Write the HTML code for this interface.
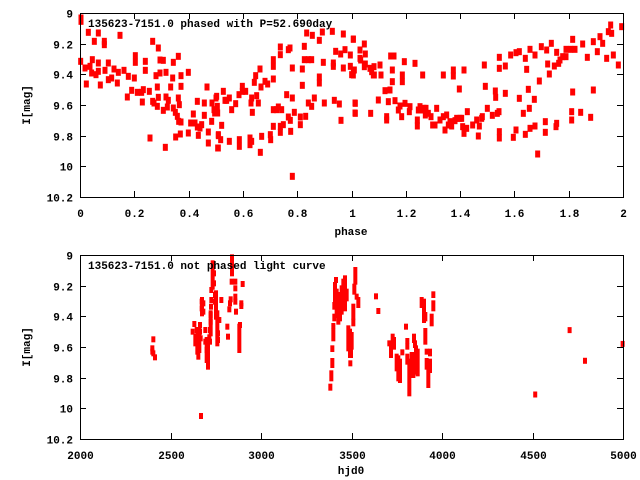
<!DOCTYPE html>
<html><head><meta charset="utf-8"><style>
html,body{margin:0;padding:0;background:#fff;}
svg{display:block;}
text{font-family:"Liberation Mono","DejaVu Sans Mono",monospace;font-weight:bold;font-size:11px;fill:#000;}
</style></head><body>
<svg id="s" width="640" height="480" xmlns="http://www.w3.org/2000/svg">
<rect x="0" y="0" width="640" height="480" fill="#fff"/>
<g id="pts1" fill="#f00"></g>
<g id="pts2" fill="#f00"></g>
<g id="ax" stroke="#000" stroke-width="1" fill="none"></g>
<g id="tx"></g>
<text x="88" y="27">135623-7151.0 phased with P=52.690day</text>
<text x="88" y="269">135623-7151.0 not phased light curve</text>
<text x="351" y="235" text-anchor="middle">phase</text>
<text x="351" y="474" text-anchor="middle">hjd0</text>
<text transform="translate(30,105) rotate(-90)" text-anchor="middle">I[mag]</text>
<text transform="translate(30,347) rotate(-90)" text-anchor="middle">I[mag]</text>
</svg>
<script>
var NS="http://www.w3.org/2000/svg";
function el(p,n,a){var e=document.createElementNS(NS,n);for(var k in a)e.setAttribute(k,a[k]);p.appendChild(e);return e;}
var ax=document.getElementById('ax'),tx=document.getElementById('tx');
function frame(x0,y0,x1,y1){el(ax,'rect',{x:x0+.5,y:y0+.5,width:x1-x0,height:y1-y0});}
frame(80,13,623,197);frame(80,255,623,439);
function t(x,y,s,a){var e=el(tx,'text',{x:x,y:y,'text-anchor':a||'end'});e.textContent=s;}
var ylab=['9','9.2','9.4','9.6','9.8','10','10.2'];
for(var i=0;i<7;i++){
 var y=Math.round(13+i*184/6)+.5;
 el(ax,'line',{x1:80,y1:y,x2:86,y2:y});el(ax,'line',{x1:623,y1:y,x2:617,y2:y});
 t(73,y+4,ylab[i]);
 var y2=Math.round(255+i*184/6)+.5;
 el(ax,'line',{x1:80,y1:y2,x2:86,y2:y2});el(ax,'line',{x1:623,y1:y2,x2:617,y2:y2});
 t(73,y2+4,ylab[i]);
}
var xl=['0','0.2','0.4','0.6','0.8','1','1.2','1.4','1.6','1.8','2'];
for(var i=0;i<11;i++){var x=Math.round(80+i*54.3)+.5;
 el(ax,'line',{x1:x,y1:197,x2:x,y2:191});el(ax,'line',{x1:x,y1:13,x2:x,y2:19});
 t(x,217,xl[i],'middle');}
var bl=['2000','2500','3000','3500','4000','4500','5000'];
for(var i=0;i<7;i++){var x=Math.round(80+i*543/6)+.5;
 el(ax,'line',{x1:x,y1:439,x2:x,y2:433});el(ax,'line',{x1:x,y1:255,x2:x,y2:261});
 t(x,459,bl[i],'middle');}
var CA=[[3,15],[3,25],[25,58],[55,60],[43,85],[73,85],[73,95],[120,67],[218,85],[235,105],[2,145],[15,165],[37,140],[30,160],[55,150],[85,150],[35,180],[48,185],[55,175],[75,172],[102,168],[115,178],[132,172],[19,213],[61,216],[85,200],[95,195],[112,210],[145,190],[163,195],[166,128],[166,148],[196,145],[196,172],[240,141],[250,142],[280,148],[295,130],[228,188],[240,180],[258,178],[278,195],[303,188],[325,178],[155,232],[142,252],[172,238],[185,238],[190,230],[208,235],[232,222],[272,222],[303,220],[187,267],[218,265],[222,270],[235,253],[232,280],[250,292],[258,252],[265,262],[262,282],[280,285],[286,298],[295,255],[298,275],[292,310],[296,325],[303,327],[340,303],[332,330],[345,330],[352,342],[360,345],[365,335],[352,265],[373,270],[373,307],[381,222],[395,325],[385,357],[396,270],[402,290],[410,250],[412,280],[404,300],[210,375],[256,403],[287,372],[301,363],[325,360],[355,367],[385,390],[413,405],[415,368]];
var CB=[[3,255],[8,300],[20,337],[10,365],[17,380],[10,405],[25,235],[35,262],[43,255],[30,262],[50,290],[62,272],[72,245],[82,220],[82,235],[92,235],[43,385],[73,380],[73,400],[105,375],[110,385],[105,395],[112,298],[108,270],[110,255],[125,248],[130,270],[118,208],[122,188],[135,168],[138,222],[150,205],[158,213],[140,370],[136,418],[166,365],[167,380],[175,340],[175,290],[185,290],[190,282],[200,290],[196,358],[196,340],[205,335],[215,245],[220,312],[226,322],[227,355],[232,255],[238,298],[175,198],[175,160],[175,140],[196,102],[196,125],[220,110],[225,105],[232,165],[262,168],[262,217],[268,100],[268,140],[280,140],[290,140],[275,60],[292,67],[313,82],[322,57],[352,55],[385,63],[415,78],[325,148],[355,150],[355,160],[362,115],[377,123],[390,110],[406,126],[385,165],[406,160],[415,172],[410,185],[313,192],[313,210],[298,255],[280,270],[290,280],[328,270],[358,262],[373,273],[420,270],[420,300],[378,322],[272,310],[256,312],[256,335],[232,490]];
var CC=[[100,118],[103,210],[100,225],[106,310],[106,340],[120,150],[120,175],[122,180],[133,132],[136,162],[133,200],[136,192],[150,205],[152,340],[155,215],[160,225],[162,200],[163,225],[175,300],[180,195],[183,225],[195,272],[200,350],[200,360],[205,305],[210,270],[212,168],[222,168],[217,210],[217,245],[225,302],[235,330],[240,318],[245,350],[247,225],[247,245],[253,185],[255,310],[268,335],[270,320],[285,190],[292,360],[292,378],[295,330],[300,320],[305,330],[308,225],[312,325],[318,325],[316,345],[325,340],[333,350],[338,375],[345,375],[350,325],[360,360],[370,225],[370,350],[375,390],[380,345],[385,375],[390,365],[395,378],[400,210],[400,228],[405,362],[410,355],[418,267],[420,355],[425,355],[428,380],[432,400],[432,210],[440,385],[442,335],[458,375],[470,360],[475,408],[478,378],[485,355],[487,350],[493,195],[496,259],[502,325],[517,346],[526,273],[527,292],[532,340],[537,335],[538,395],[538,414],[538,172],[538,205],[556,198],[556,280],[572,165],[588,158],[598,155],[598,295],[580,412],[588,390],[610,340],[616,403],[616,175],[620,208],[625,268],[628,325],[630,385],[630,148],[643,298],[645,378],[645,165],[653,462],[658,243],[664,140],[676,365],[676,397],[680,150],[683,192],[688,222],[694,130],[703,198],[708,380],[710,370],[710,157],[716,190],[720,180],[728,170],[738,148],[738,170],[752,148],[755,335],[755,360],[758,276],[758,118],[765,148],[782,337],[788,132],[802,172],[812,352],[820,270],[820,125],[832,155],[840,110],[848,130],[860,175],[865,95],[872,75],[875,100],[880,165],[895,195],[905,80]];
var g1=document.getElementById('pts1');
function dot(x,y){el(g1,'rect',{x:x-2.5,y:y-3.5,width:5,height:7});}
CA.forEach(function(p){dot(80+p[0]/3,13+p[1]/3);});
CB.forEach(function(p){dot(215+p[0]/3,13+p[1]/3);});
CC.forEach(function(p){dot(320+p[0]/3,p[1]/3);});
var g2=document.getElementById('pts2');
function st(x0,y0,x,a,b){if(b===undefined)b=a;var px=x0+x/3,p1=y0+a/3,p2=y0+b/3;el(g2,'rect',{x:px-2,y:p1-3,width:4,height:p2-p1+6});}
var D1=[[40,268],[37,295],[40,310],[45,322],[37,305],[158,245],[163,222],[170,240],[180,225],[180,245],[182,265],[185,155],[185,175],[190,160],[190,185],[196,240],[196,275],[208,262],[210,275],[210,240],[212,215],[212,195],[213,170],[214,150],[214,120],[222,100],[222,70],[225,135],[225,155],[238,210],[244,150],[262,230],[264,260],[268,178],[270,160],[272,148],[275,95],[286,95],[286,115],[286,140],[286,155],[288,185],[300,225],[304,160],[304,168],[308,102],[183,498],[200,300],[234,250],[234,270]];
D1.forEach(function(p){st(140,250,p[0],p[1]);});
[[218,40,110],[276,22,70],[172,255,305],[175,290,320],[204,290,350],[186,150,190],[232,190,280],[298,230,300],[166,260,280],[200,270,330],[178,240,300],[228,130,200],[212,190,250]].forEach(function(p){st(140,250,p[0],p[1],p[2]);});
var D2=[[31,395,398],[34,355,370],[37,318,330],[37,280,282],[40,230,250],[40,213,213],[43,185,190],[43,150,155],[45,90,115],[48,75,75],[45,130,135],[55,120,200],[60,150,190],[65,100,170],[70,80,140],[75,70,160],[80,110,130],[85,220,280],[90,230,300],[95,240,275],[93,290,300],[91,325,325],[100,155,185],[100,200,205],[103,95,110],[106,45,80],[110,125,125],[115,135,150],[168,124,124],[175,168,168],[208,265,265],[213,270,300],[218,245,260],[222,255,275],[230,305,340],[240,320,375],[247,292,292],[258,215,215],[262,258,258],[262,275,275],[262,305,320],[268,320,415],[272,330,360],[275,300,330],[282,245,255],[285,265,270],[288,280,350],[293,290,355],[305,135,150],[312,140,195],[316,180,190],[316,228,260],[320,290,290],[320,318,335],[330,290,295],[325,325,390],[330,320,345],[335,185,205],[340,145,160],[340,118,120],[235,310,370],[280,300,360],[50,110,180]];
D2.forEach(function(p){st(320,255,p[0],p[1],p[2]);});
function bd(h,m){var x=80+(h-2000)*0.181,y=255+(m-9)*153.3;el(g2,'rect',{x:x-2,y:y-3,width:4,height:6});}
bd(4515,9.91);bd(4705,9.49);bd(4790,9.69);bd(4998,9.58);
</script>
</body></html>
